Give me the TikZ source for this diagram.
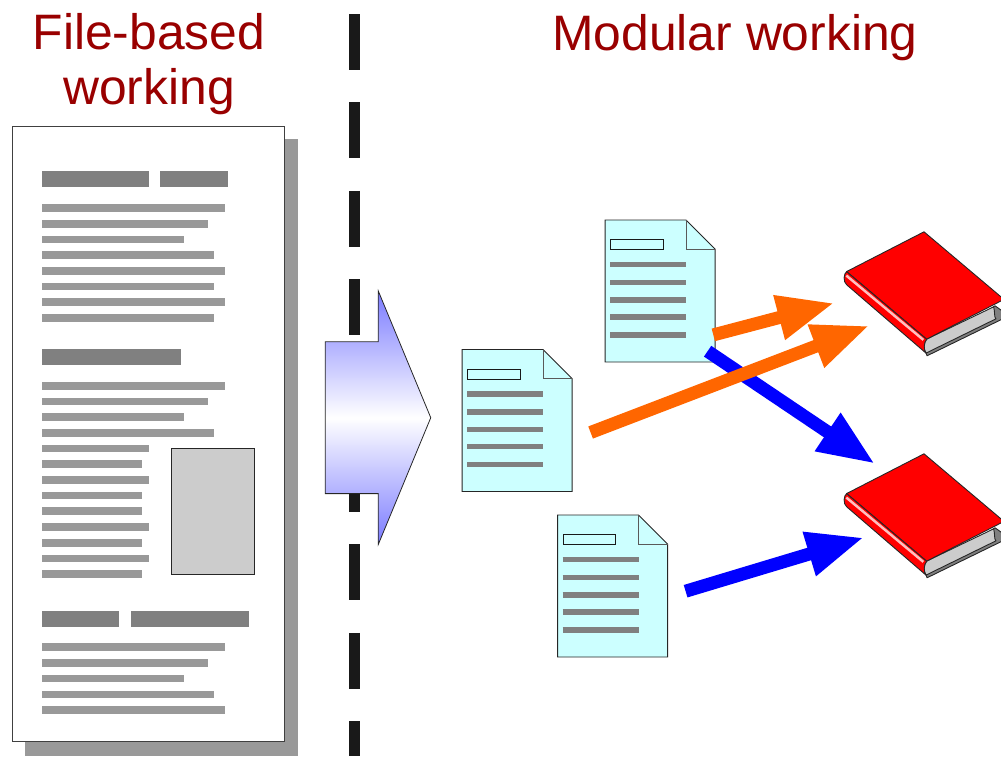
\documentclass[tikz,border=0pt]{standalone}
\usepackage{fontspec}
\setmainfont{Liberation Sans}
\usepackage{tikz}
\usetikzlibrary{shapes.arrows, arrows.meta, positioning, calc}
\definecolor{title_red}{HTML}{990000}
\definecolor{paper_cyan}{HTML}{CCFFFF}
\definecolor{arrow_orange_col}{HTML}{FF6600}
\tikzstyle{title} = [text=title_red, align=center, font=\fontsize{49.8}{55}\selectfont, inner sep=0pt]
\tikzstyle{page} = [rectangle, minimum width=272pt, minimum height=615pt, inner sep=0pt, draw=black!75, fill=white, line width=1pt]
\tikzstyle{page_shadow} = [rectangle, minimum width=273pt, minimum height=617pt, inner sep=0pt, fill=black!40]
\tikzstyle{figure_box} = [rectangle, minimum width=83pt, minimum height=125.5pt, inner sep=0pt, draw=black!85, fill=black!20, line width=1pt]
\tikzstyle{page_head} = [line width=16pt, draw=black!50]
\tikzstyle{page_line} = [line width=7.5pt, draw=black!40]
\tikzstyle{divider} = [line width=11pt, draw=black!90, dash pattern=on 56pt off 32.4pt]
\tikzstyle{transfer} = [single arrow, minimum height=105.5pt, single arrow head extend=51pt, single arrow head indent=0pt, single arrow tip angle=135, inner xsep=0pt, inner ysep=75.5pt, draw=black!85, line width=0.8pt, top color=blue!52!white, bottom color=blue!52!white, middle color=white]
\tikzstyle{doc_frame} = [rectangle, minimum width=110pt, minimum height=142pt, inner sep=0pt]
\tikzstyle{book_frame} = [rectangle, minimum width=160pt, minimum height=124pt, inner sep=0pt]
\tikzstyle{arrow_orange} = [line width=13pt, draw=arrow_orange_col, shorten >=-2.6pt, -{Triangle[length=57pt, width=42.5pt, fill=arrow_orange_col]}]
\tikzstyle{arrow_blue} = [line width=13pt, draw=blue, shorten >=-2.6pt, -{Triangle[length=57pt, width=42.5pt, fill=blue]}]

% Small sheet with a folded corner, placed on a doc_frame node
\newcommand{\paperdoc}[1]{
	\begin{scope}[shift={(#1.north west)}]
		\draw [fill=paper_cyan, draw=black!85, line width=0.9pt] (0,0) -- (81,0) -- (110,29) -- (110,142) -- (0,142) -- cycle;
		\draw [draw=black!65, line width=0.9pt] (81,0) -- (81,29) -- (110,29);
		\draw [draw=black!90, line width=0.9pt] (5.5,19.5) rectangle (58,29.5);
		\draw [line width=5.5pt, draw=black!50] (5,44.5) -- (81,44.5);
		\draw [line width=5.5pt, draw=black!50] (5,62.5) -- (81,62.5);
		\draw [line width=5.5pt, draw=black!50] (5,80) -- (81,80);
		\draw [line width=5.5pt, draw=black!50] (5,97) -- (81,97);
		\draw [line width=5.5pt, draw=black!50] (5,115) -- (81,115);
	\end{scope}
}

% Closed red book, placed on a book_frame node (top corner of the cover at north)
\newcommand{\redbook}[1]{
	\begin{scope}[shift={(#1.north)}, draw=black!85, line width=0.9pt, line join=round]
		\draw [fill=black!50] (71,74) -- (85,84) -- (3,124) -- (2,121) -- cycle;
		\draw [fill=black!20] (2.7,107.3) -- (69.7,75) .. controls (71,80) and (70,86) .. (72,87) -- (2,121.3) .. controls (-0.5,118) and (-0.5,111) .. cycle;
		\draw [fill=red] (-77.3,39.7) .. controls (-80.5,42) and (-81,50) .. (-77.3,53) -- (2,121.3) .. controls (-0.5,118) and (-0.5,111) .. (2.7,107.3) -- cycle;
		\draw [draw=red!25!white, line width=2.5pt] (-77.7,43.7) -- (-0.7,108);
		\draw [fill=red] (0,0) -- (80,67.6) -- (2.7,107.3) -- (-77.3,39.7) -- cycle;
	\end{scope}
}

\begin{document}
\begin{tikzpicture}[x=1pt, y=-1pt, line cap=butt]

		\path [use as bounding box, clip] (0,0) rectangle (1001,756);

		% Titles
		\node (title_file) at (149,64) [title] {File-based\\working};
		\node (title_modular) at (735,38) [title] {Modular working};

		% Dashed line between both halves
		\coordinate (divider_top) at (354.5,14);
		\coordinate (divider_bottom) at (354.5,756);
		\draw [divider] (divider_top) -- (divider_bottom);

		% Long file on the left
		\node (page_back) at (161.5,447.5) [page_shadow] {};
		\node (page_file) at (148,433.5) [page] {};
		\node (page_figure) at (213,511.4) [figure_box] {};

		% First section
		\draw [page_head] (42,179) -- (149,179);
		\draw [page_head] (160,179) -- (228,179);
		\draw [page_line] (42,208) -- (225,208);
		\draw [page_line] (42,224) -- (208,224);
		\draw [page_line] (42,239.5) -- (184,239.5);
		\draw [page_line] (42,255) -- (213.5,255);
		\draw [page_line] (42,271) -- (225,271);
		\draw [page_line] (42,286.5) -- (213.5,286.5);
		\draw [page_line] (42,302) -- (225,302);
		\draw [page_line] (42,318) -- (213.5,318);
		% -
		\draw [page_head] (42,357) -- (181,357);
		\draw [page_line] (42,386) -- (225,386);
		\draw [page_line] (42,401.5) -- (208,401.5);
		\draw [page_line] (42,417) -- (184,417);
		\draw [page_line] (42,433) -- (213.5,433);
		\draw [page_line] (42,448.7) -- (149,448.7);
		\draw [page_line] (42,464) -- (142,464);
		\draw [page_line] (42,480) -- (149,480);
		\draw [page_line] (42,495.5) -- (142,495.5);
		\draw [page_line] (42,511) -- (142,511);
		\draw [page_line] (42,527) -- (149,527);
		\draw [page_line] (42,543) -- (142,543);
		\draw [page_line] (42,558.5) -- (149,558.5);
		\draw [page_line] (42,574) -- (142,574);
		% -
		\draw [page_head] (42,619) -- (119,619);
		\draw [page_head] (131,619) -- (249,619);
		\draw [page_line] (42,647) -- (225,647);
		\draw [page_line] (42,663) -- (208,663);
		\draw [page_line] (42,678.7) -- (184,678.7);
		\draw [page_line] (42,694.7) -- (213.5,694.7);
		\draw [page_line] (42,710) -- (225,710);

		% Big arrow across the divider
		\node (arrow_transfer) at (362.3,417.7) [transfer] {};

		% Modules and books
		\node (doc_top) at (660.3,291.2) [doc_frame] {};
		\node (doc_mid) at (517.3,420.7) [doc_frame] {};
		\node (doc_low) at (612.8,586.2) [doc_frame] {};
		\node (book_top) at (924,294) [book_frame] {};
		\node (book_low) at (924,516) [book_frame] {};
		\paperdoc{doc_top}
		\paperdoc{doc_mid}
		\paperdoc{doc_low}
		\redbook{book_top}
		\redbook{book_low}

		% Free ends of the arrows
		\coordinate (top_orange_out) at ($(doc_top)+(53,43.7)$);
		\coordinate (top_blue_out) at ($(doc_top)+(47.3,60)$);
		\coordinate (mid_out) at ($(doc_mid)+(73.3,11.8)$);
		\coordinate (low_out) at ($(doc_low)+(72.8,5)$);
		\coordinate (top_orange_in) at ($(book_top)+(-92.3,9.7)$);
		\coordinate (mid_in) at ($(book_top)+(-57.3,32.7)$);
		\coordinate (top_blue_in) at ($(book_low)+(-51.3,-53.7)$);
		\coordinate (low_in) at ($(book_low)+(-62.7,22.3)$);

		% Arrows between modules and books
		\draw [arrow_blue] (top_blue_out) -- (top_blue_in);
		\draw [arrow_orange] (top_orange_out) -- (top_orange_in);
		\draw [arrow_orange] (mid_out) -- (mid_in);
		\draw [arrow_blue] (low_out) -- (low_in);

	\end{tikzpicture}
\end{document}
